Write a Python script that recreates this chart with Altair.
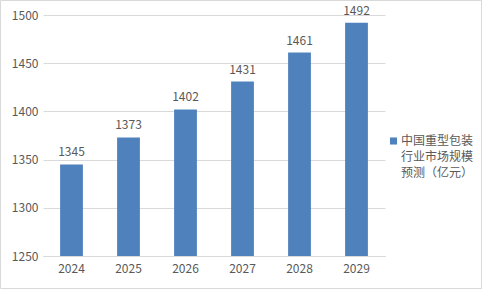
import altair as alt
import pandas as pd

years = ["2024", "2025", "2026", "2027", "2028", "2029"]
values = [1345, 1373, 1402, 1431, 1461, 1492]
series = "中国重型包装\n行业市场规模\n预测（亿元）"

df = pd.DataFrame({"year": years, "value": values})
legend_df = pd.DataFrame({"series": [series]})

FONT = "Noto Sans CJK SC"
GRAY = "#595959"
BLUE = "#4F81BD"

base = alt.Chart(df)

bars = base.mark_bar(color=BLUE, clip=True).encode(
    x=alt.X("year:N", title=None,
            scale=alt.Scale(paddingInner=0.6, paddingOuter=0.3),
            axis=alt.Axis(labelAngle=0, ticks=False, domainColor="#D9D9D9",
                          labelPadding=7, labelFontSize=12, labelColor=GRAY, labelFont=FONT)),
    y=alt.Y("value:Q", title=None,
            scale=alt.Scale(domain=[1250, 1500], nice=False, zero=False),
            axis=alt.Axis(values=[1250, 1300, 1350, 1400, 1450, 1500], domain=False, ticks=False,
                          format="d", gridColor="#D9D9D9", labelPadding=5, labelFontSize=12,
                          labelColor=GRAY, labelFont=FONT)),
)

labels = base.mark_text(dy=-12, fontSize=12, color=GRAY, font=FONT).encode(
    x="year:N", y="value:Q", text="value:Q"
)

legend_sym = alt.Chart(legend_df).mark_square(color=BLUE, size=50, opacity=1).encode(
    x=alt.value(350.5), y=alt.value(126)
)
legend_txt = alt.Chart(legend_df).mark_text(
    align="left", baseline="middle", fontSize=12, color=GRAY, font=FONT,
    lineBreak="\n", lineHeight=16
).encode(
    x=alt.value(358), y=alt.value(126), text="series:N"
)

border = alt.Chart(pd.DataFrame({"a": [0]})).mark_rect(
    fill=None, stroke="#D9D9D9", strokeWidth=1
).encode(
    x=alt.value(-42.5), x2=alt.value(438.5), y=alt.value(-14.5), y2=alt.value(273.5)
)

chart = alt.layer(bars, labels, legend_sym, legend_txt, border).properties(
    width=342, height=241,
    autosize=alt.AutoSizeParams(type="none"),
    padding={"left": 43, "top": 15, "right": 97, "bottom": 34},
).configure_view(stroke=None)

chart.save("out.html", embed_options={"renderer": "svg", "actions": False})
